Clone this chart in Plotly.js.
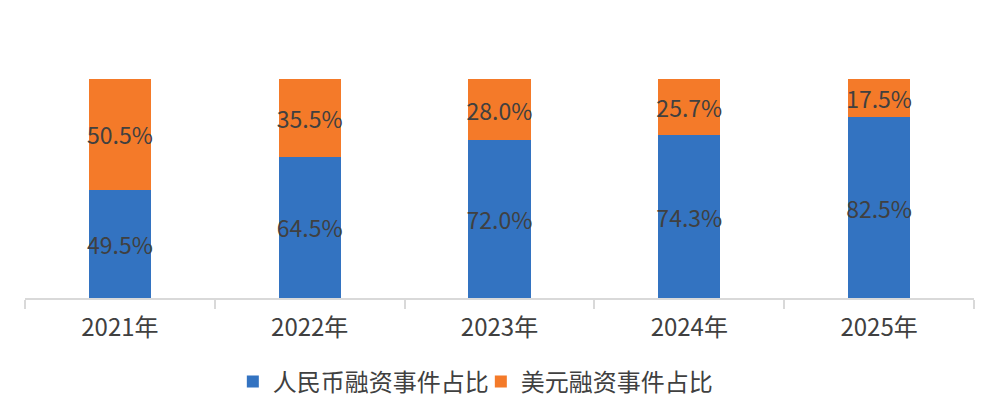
<!DOCTYPE html>
<html>
<head>
<meta charset="utf-8">
<script src="https://cdn.plot.ly/plotly-3.0.1.min.js"></script>
<style>
  html, body { margin: 0; padding: 0; background: #fff; }
  #plot { width: 998px; height: 418px; }
</style>
</head>
<body>
<div id="plot"></div>
<script>
// share of financing events by currency, %
const years = ['2021年', '2022年', '2023年', '2024年', '2025年'];
const rmbShare = [49.5, 64.5, 72.0, 74.3, 82.5];
const usdShare = [50.5, 35.5, 28.0, 25.7, 17.5];

const FONT = '"Noto Sans CJK SC", "Noto Sans", sans-serif';
const TEXT_COLOR = '#404040';

const barText = {family: FONT, size: 23, color: TEXT_COLOR};

function stackTrace(name, values, color) {
  return {
    x: years,
    y: values,
    name: name,
    type: 'bar',
    marker: {color: color},
    texttemplate: '%{y:.1f}%',
    textposition: 'inside',
    insidetextanchor: 'middle',
    textangle: 0,
    constraintext: 'none',
    textfont: barText,
    hoverinfo: 'skip'
  };
}

const rmb = stackTrace('人民币融资事件占比', rmbShare, '#3373c1');
const usd = stackTrace('美元融资事件占比', usdShare, '#f47a29');

const layout = {
  width: 998,
  height: 418,
  margin: {l: 25, r: 24, t: 79, b: 120},
  paper_bgcolor: '#ffffff',
  plot_bgcolor: '#ffffff',
  barmode: 'stack',
  bargap: 0.673,
  font: {family: FONT, color: TEXT_COLOR},
  showlegend: true,
  legend: {
    orientation: 'h',
    x: 0.219,
    xanchor: 'left',
    y: -0.28,
    yanchor: 'top',
    traceorder: 'normal',
    entrywidth: 203,
    font: {family: FONT, size: 24, color: TEXT_COLOR}
  },
  xaxis: {
    type: 'category',
    showline: true,
    linecolor: '#d9d9d9',
    linewidth: 2,
    ticks: 'outside',
    tickson: 'boundaries',
    ticklen: 9,
    tickwidth: 2,
    tickcolor: '#d9d9d9',
    ticklabelstandoff: 7,
    tickfont: {family: FONT, size: 24, color: TEXT_COLOR},
    showgrid: false,
    zeroline: false,
    fixedrange: true
  },
  yaxis: {
    visible: false,
    range: [0, 100],
    fixedrange: true
  }
};

Plotly.newPlot('plot', [rmb, usd], layout, {displayModeBar: false, staticPlot: true});
</script>
</body>
</html>
